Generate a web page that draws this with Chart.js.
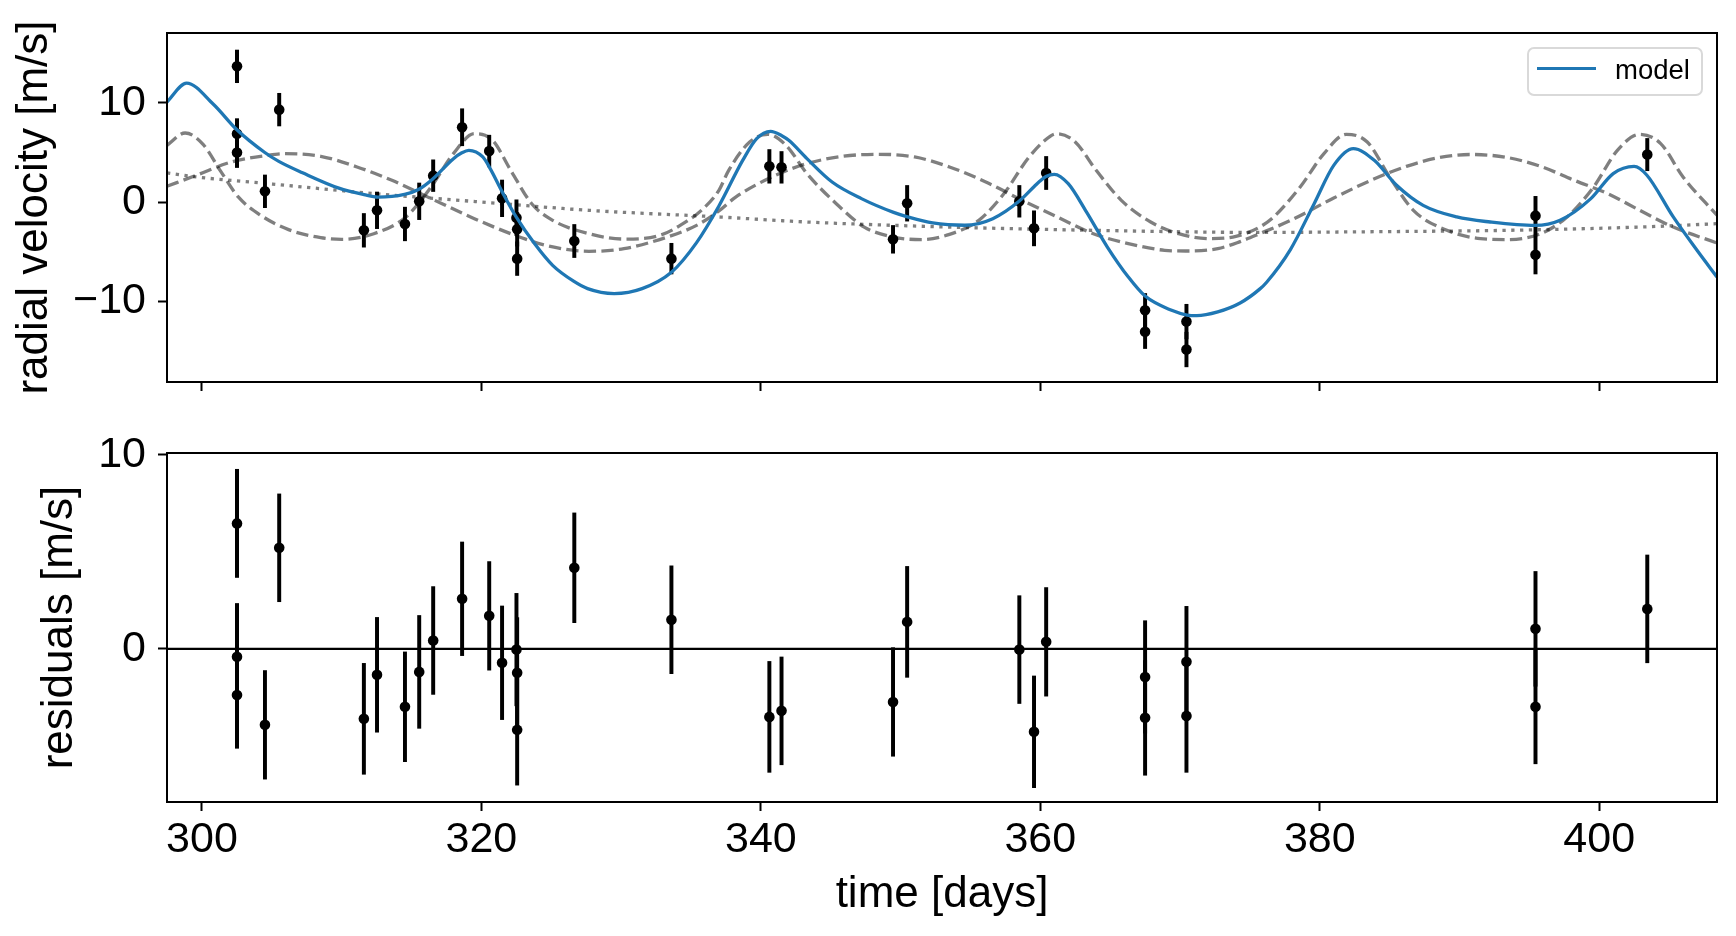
<!DOCTYPE html>
<html>
<head>
<meta charset="utf-8">
<title>radial velocity fit</title>
<script src="https://cdn.jsdelivr.net/npm/chart.js@4.4.1/dist/chart.umd.min.js"></script>
<style>
  html, body { margin: 0; padding: 0; background: #fff; }
  body { width: 1736px; height: 936px; position: relative; overflow: hidden; }
  canvas { position: absolute; left: 0; }
  #rvChart { top: 0; }
  #residChart { top: 420px; }
  .legend {
    position: absolute; left: 1527px; top: 47px; width: 176px; height: 49px;
    box-sizing: border-box; border: 2px solid #d9d9d9; border-radius: 7px;
    background: rgba(255, 255, 255, 0.8);
    font-family: 'Liberation Sans', Arial, Helvetica, sans-serif;
  }
  .legend .swatch { position: absolute; left: 8px; top: 18px; width: 59px; height: 3.4px; background: #1f77b4; }
  .legend .label { position: absolute; left: 86px; top: 7px; font-size: 27.5px; line-height: 1; color: #000; }
</style>
</head>
<body>
<canvas id="rvChart" width="1736" height="420"></canvas>
<canvas id="residChart" width="1736" height="516"></canvas>
<div class="legend"><span class="swatch"></span><span class="label">model</span></div>
<script>
const FONT = "'Liberation Sans', Arial, Helvetica, sans-serif";

const obsTime = [302.51, 302.51, 302.51, 304.51, 305.53, 311.59, 312.53, 314.53, 315.55, 316.55, 318.62, 320.56, 321.48, 322.51, 322.56, 322.56,
  326.65, 333.6, 340.61, 341.48, 349.46, 350.47, 358.5, 359.55, 360.42, 367.5, 367.5, 370.46, 370.46, 395.44, 395.44, 403.44];
const obsRV = [13.7, 6.9, 5.0, 1.08, 9.33, -2.86, -0.84, -2.22, 0.07, 2.66, 7.55, 5.15, 0.37, -1.58, -2.76, -5.72,
  -3.94, -5.72, 3.6, 3.5, -3.77, -0.13, 0.07, -2.66, 2.93, -10.94, -13.1, -12.08, -14.9, -1.38, -5.32, 4.79];
const obsErr = [1.65, 1.52, 1.52, 1.65, 1.65, 1.7, 1.85, 1.7, 1.85, 1.6, 1.87, 1.6, 1.85, 1.8, 1.7, 1.7,
  1.67, 1.55, 1.7, 1.6, 1.4, 1.8, 1.6, 1.77, 1.67, 1.7, 1.7, 1.75, 1.75, 1.95, 1.95, 1.63];
const resid = [6.47, -0.41, -2.38, -3.92, 5.21, -3.61, -1.34, -2.99, -1.19, 0.43, 2.58, 1.70, -0.72, -0.04, -1.24, -4.18,
  4.18, 1.50, -3.51, -3.2, -2.74, 1.39, -0.04, -4.28, 0.36, -1.45, -3.56, -0.67, -3.46, 1.03, -2.99, 2.06];
const residErr = [2.79, 2.75, 2.75, 2.8, 2.78, 2.86, 2.96, 2.83, 2.91, 2.78, 2.93, 2.8, 2.93, 2.9, 2.85, 2.85,
  2.83, 2.78, 2.86, 2.78, 2.8, 2.86, 2.78, 2.88, 2.8, 2.9, 2.96, 2.86, 2.91, 2.96, 2.94, 2.78];

// full model curve (blue)
const modelTime = [297.5, 298.9, 300.8, 302.5, 304.5, 305.5, 307.2, 309.8, 311.6, 312.6, 314.5, 315.5, 316.5, 318.0, 318.6, 319.1,
  320.1, 320.6, 321.5, 322.5, 323.8, 325.1, 326.6, 327.6, 329.5, 331.5, 333.6, 335.4, 337.0, 338.7, 339.7, 340.7, 341.5, 342.0,
  343.3, 345.1, 347.2, 349.5, 350.5, 352.3, 354.6, 356.6, 358.5, 359.6, 359.9, 360.4, 361.0, 362.0, 363.3, 364.8, 366.3, 367.5,
  369.4, 370.5, 371.2, 372.7, 374.3, 375.7, 376.2, 377.9, 379.6, 381.0, 382.4, 383.9, 385.5, 387.4, 389.8, 392.2, 395.4, 397.2,
  399.4, 401.0, 402.5, 403.4, 405.3, 407.0, 408.43];
const modelRV = [10.1, 12.0, 9.9, 7.3, 5.0, 4.1, 2.95, 1.4, 0.75, 0.5, 0.77, 1.26, 2.3, 4.38, 4.97, 5.22,
  4.55, 3.45, 1.0, -1.53, -4.2, -6.4, -8.0, -8.75, -9.25, -8.75, -7.1, -4.1, -0.4, 4.2, 6.4, 7.14, 6.7, 6.23,
  4.38, 2.02, 0.34, -1.05, -1.5, -2.12, -2.35, -1.68, 0.1, 1.62, 2.02, 2.57, 2.8, 1.85, -1.0, -4.55, -7.58, -9.5,
  -10.94, -11.42, -11.48, -11.1, -10.2, -8.8, -8.1, -4.8, -0.17, 3.7, 5.39, 4.21, 1.69, -0.34, -1.51, -2.02, -2.37, -1.85,
  0.34, 2.87, 3.6, 2.73, -1.51, -4.88, -7.58];

// short-period planet (grey dashed)
const shortTime = [297.5, 298.8, 300.1, 301.3, 302.6, 304.2, 306.2, 308.5, 310.0, 312.3, 314.6, 316.4, 318.0, 319.5, 320.8,
  322.1, 323.6, 325.1, 327.7, 330.2, 332.8, 334.8, 335.7, 337.0, 337.7, 339.2, 340.5, 341.8, 343.3, 345.4,
  347.4, 349.5, 351.5, 353.5, 355.6, 357.4, 359.2, 360.7, 361.2, 362.5, 364.0, 365.8, 367.9, 369.9, 372.2,
  374.0, 375.7, 376.7, 378.6, 380.3, 381.9, 383.4, 385.0, 386.7, 389.1, 391.5, 393.4, 395.8, 397.7, 399.6,
  401.3, 402.9, 404.4, 406.0, 408.43];
const shortRV = [5.73, 6.97, 5.8, 3.2, 0.51, -1.34, -2.79, -3.6, -3.77, -3.2, -1.51, 1.52, 4.89, 6.9, 6.23,
  3.2, -0.17, -1.85, -3.2, -3.74, -3.36, -1.85, -0.9, 1.18, 3.2, 6.06, 6.84, 5.73, 2.87, -0.17,
  -2.53, -3.54, -3.8, -3.27, -1.85, 0.85, 4.55, 6.64, 6.9, 6.06, 3.2, 0.17, -2.02, -3.2, -3.7,
  -3.47, -2.53, -1.51, 1.52, 4.89, 6.84, 6.06, 2.53, -0.84, -2.86, -3.7, -3.8, -3.2, -1.51, 1.52,
  5.22, 6.84, 5.9, 2.53, -1.34];

// long-period planet (grey dashed)
const longTime = [297.5, 299.6, 302.1, 304.7, 305.9, 308.5, 311.1, 313.6, 316.4, 319.5, 322.1, 324.6, 327.7, 330.2, 333.3,
  335.4, 337.0, 338.2, 340.8, 343.3, 345.9, 348.4, 351.0, 353.5, 356.1, 358.7, 361.2, 363.8, 366.3, 368.9,
  370.4, 372.7, 374.3, 375.7, 378.0, 381.0, 384.0, 386.2, 388.6, 390.8, 393.4, 395.8, 398.2, 400.6, 402.9,
  405.3, 408.43];
const longRV = [1.59, 2.7, 4.04, 4.72, 4.89, 4.62, 3.54, 2.19, 0.34, -1.68, -3.2, -4.37, -4.98, -4.71, -3.54,
  -2.36, -0.9, 0.5, 2.53, 3.88, 4.62, 4.82, 4.55, 3.54, 2.02, 0.17, -1.51, -3.2, -4.2, -4.88,
  -4.95, -4.71, -4.0, -3.2, -1.8, 0.4, 2.4, 3.6, 4.5, 4.8, 4.5, 3.6, 2.2, 0.85, -0.84,
  -2.53, -4.14];

// background trend (grey dotted)
const trendTime = [297.5, 299.6, 304.7, 312.3, 320.0, 327.7, 337.0, 343.3, 353.5, 363.8, 375.7, 383.9, 393.4, 402.9, 408.43];
const trendRV = [2.94, 2.53, 1.86, 0.85, 0.0, -0.84, -1.51, -2.02, -2.53, -2.86, -3.07, -3.0, -2.86, -2.53, -2.19];

// ticks
const dayTicks = [300, 320, 340, 360, 380, 400];
const rvTicks = [-10, 0, 10];
const residTicks = [0, 10];

const X_MIN = 297.5, X_MAX = 408.43;
const BLUE = '#1f77b4';
const GREY = 'rgba(0, 0, 0, 0.5)';

function pairs(xs, ys) {
  return xs.map((x, i) => ({ x, y: ys[i] }));
}

function errorBars(xs, ys, es) {
  return xs.map((x, i) => ({ x, y: [ys[i] - es[i], ys[i] + es[i]] }));
}

function minusSign(v) {
  return v < 0 ? '\u2212' + Math.abs(v) : String(v);
}

// matplotlib-style box around the axes
const framePlugin = {
  id: 'frame',
  afterDatasetsDraw(chart) {
    const { ctx, chartArea: a } = chart;
    ctx.save();
    ctx.strokeStyle = '#000';
    ctx.lineWidth = 2;
    ctx.strokeRect(a.left, a.top, a.right - a.left, a.bottom - a.top);
    ctx.restore();
  }
};

const tickGrid = { drawOnChartArea: false, drawTicks: true, tickLength: 9, tickWidth: 2, tickColor: '#000', offset: false };

function xScale(withLabels) {
  return {
    type: 'linear',
    min: X_MIN,
    max: X_MAX,
    offset: false,
    afterBuildTicks: s => { s.ticks = dayTicks.map(v => ({ value: v })); },
    afterFit: s => { s.height = withLabels ? 134 : 38; },
    border: { display: false },
    grid: tickGrid,
    ticks: {
      display: withLabels,
      autoSkip: false,
      maxRotation: 0,
      padding: 3,
      color: '#000',
      font: { family: FONT, size: 43 }
    },
    title: {
      display: withLabels,
      text: 'time [days]',
      color: '#000',
      font: { family: FONT, size: 44 },
      padding: { top: 0, bottom: 15 }
    }
  };
}

function yScale(min, max, ticks, label, titlePad) {
  return {
    type: 'linear',
    min,
    max,
    afterBuildTicks: s => { s.ticks = ticks.map(v => ({ value: v })); },
    afterFit: s => { s.width = 167; },
    border: { display: false },
    grid: tickGrid,
    ticks: {
      autoSkip: false,
      padding: 12,
      color: '#000',
      // a tight line height keeps the label padding inside the 33px top margin
      font: { family: FONT, size: 43, lineHeight: 0.96 },
      callback: minusSign
    },
    title: {
      display: true,
      text: label,
      color: '#000',
      font: { family: FONT, size: 44 },
      padding: { top: titlePad, bottom: 0 }
    }
  };
}

function baseOptions(scales) {
  return {
    responsive: false,
    animation: false,
    events: [],
    layout: { autoPadding: false, padding: { top: 33, right: 19, left: 0, bottom: 0 } },
    plugins: { legend: { display: false }, tooltip: { enabled: false } },
    scales
  };
}

const lineStyle = { pointRadius: 0, fill: false, cubicInterpolationMode: 'monotone', borderCapStyle: 'butt' };

new Chart(document.getElementById('rvChart'), {
  type: 'scatter',
  data: {
    datasets: [
      { type: 'line', label: 'model', data: pairs(modelTime, modelRV), borderColor: BLUE, borderWidth: 3.3, ...lineStyle },
      { type: 'line', data: pairs(trendTime, trendRV), borderColor: GREY, borderWidth: 3.3, borderDash: [3.3, 5.5], ...lineStyle },
      { type: 'line', data: pairs(longTime, longRV), borderColor: GREY, borderWidth: 3.3, borderDash: [12.3, 5.3], ...lineStyle },
      { type: 'line', data: pairs(shortTime, shortRV), borderColor: GREY, borderWidth: 3.3, borderDash: [12.3, 5.3], ...lineStyle },
      { type: 'scatter', data: pairs(obsTime, obsRV), pointRadius: 5.3, pointBackgroundColor: '#000', pointBorderWidth: 0 },
      { type: 'bar', data: errorBars(obsTime, obsRV, obsErr), backgroundColor: '#000', borderWidth: 0, barThickness: 3.3 }
    ]
  },
  options: baseOptions({ x: xScale(false), y: yScale(-18.18, 17.07, rvTicks, 'radial velocity [m/s]', 8.5) }),
  plugins: [framePlugin]
});

new Chart(document.getElementById('residChart'), {
  type: 'scatter',
  data: {
    datasets: [
      { type: 'scatter', data: pairs(obsTime, resid), pointRadius: 5.3, pointBackgroundColor: '#000', pointBorderWidth: 0 },
      { type: 'bar', data: errorBars(obsTime, resid, residErr), backgroundColor: '#000', borderWidth: 0, barThickness: 3.3 },
      { type: 'line', data: [{ x: X_MIN, y: 0 }, { x: X_MAX, y: 0 }], borderColor: '#000', borderWidth: 2.3, pointRadius: 0, fill: false }
    ]
  },
  options: baseOptions({ x: xScale(true), y: yScale(-7.9, 10.1, residTicks, 'residuals [m/s]', 33.5) }),
  plugins: [framePlugin]
});
</script>
</body>
</html>
